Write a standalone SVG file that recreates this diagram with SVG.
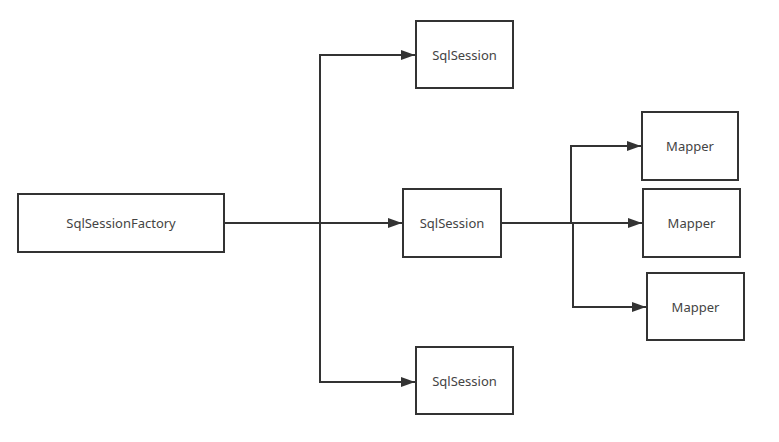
<svg xmlns="http://www.w3.org/2000/svg" width="779" height="442" viewBox="0 0 779 442">
<style>
.box{fill:#fff;stroke:#333;stroke-width:2}
.lbl{font-family:"Noto Sans","Liberation Sans",sans-serif;font-size:13px;fill:#444;text-anchor:middle;dominant-baseline:central}
.ln{fill:none;stroke:#333;stroke-width:2}
</style>
<defs>
<marker id="arr" viewBox="0 0 14 10" refX="14" refY="5" markerWidth="14" markerHeight="10" markerUnits="userSpaceOnUse" orient="auto">
<path d="M0,0 L14,5 L0,10 z" fill="#333"/>
</marker>
</defs>
<rect width="779" height="442" fill="#fff"/>
<g id="connectors">
<path class="ln" d="M224,223 H402" marker-end="url(#arr)"/>
<path class="ln" d="M320,223 V55 H415" marker-end="url(#arr)"/>
<path class="ln" d="M320,223 V382 H415" marker-end="url(#arr)"/>
<path class="ln" d="M501,223 H642" marker-end="url(#arr)"/>
<path class="ln" d="M571,223 V146 H641" marker-end="url(#arr)"/>
<path class="ln" d="M573,223 V307 H646" marker-end="url(#arr)"/>
</g>
<g id="factory"><rect class="box" x="18" y="194" width="206" height="58"/><text class="lbl" x="121" y="223">SqlSessionFactory</text></g>
<g id="session1"><rect class="box" x="416" y="21" width="97" height="67"/><text class="lbl" x="464.5" y="54.5">SqlSession</text></g>
<g id="session2"><rect class="box" x="403" y="189" width="98" height="68"/><text class="lbl" x="452" y="223">SqlSession</text></g>
<g id="session3"><rect class="box" x="416" y="347" width="97" height="67"/><text class="lbl" x="464.5" y="381">SqlSession</text></g>
<g id="mapper1"><rect class="box" x="642" y="112" width="96" height="68"/><text class="lbl" x="690" y="146">Mapper</text></g>
<g id="mapper2"><rect class="box" x="643" y="189" width="97" height="68"/><text class="lbl" x="691.5" y="223">Mapper</text></g>
<g id="mapper3"><rect class="box" x="647" y="273" width="97" height="67"/><text class="lbl" x="695.5" y="306.5">Mapper</text></g>
</svg>
